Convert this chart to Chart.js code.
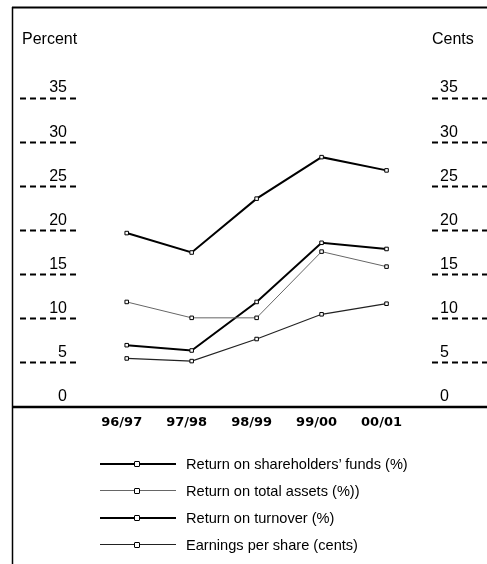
<!DOCTYPE html>
<html><head><meta charset="utf-8">
<script src="https://cdn.jsdelivr.net/npm/chart.js@4.4.0/dist/chart.umd.min.js"></script>
<style>
html,body{margin:0;padding:0;background:#fff;}
#wrap{position:relative;width:487px;height:564px;overflow:hidden;}
#c{position:absolute;left:0;top:0;}
.lab{position:absolute;font-family:"Liberation Sans",sans-serif;font-size:16px;color:#000;line-height:16px;}
#legend{position:absolute;left:100px;top:450px;}
.row{position:relative;height:27px;display:flex;align-items:center;}
.sample{position:relative;width:76px;height:12px;margin-right:10px;}
.ln{position:absolute;left:0;right:0;}
.mk{position:absolute;width:4px;height:4px;border:1px solid #000;background:#fff;left:34px;top:3px;border-radius:1px;}
.txt{font-family:"Liberation Sans",sans-serif;font-size:14.6px;color:#000;white-space:nowrap;}
</style>
</head><body>
<div id="wrap">
<canvas id="c" width="487" height="564"></canvas>
<div class="lab" style="left:22px;top:31px;">Percent</div>
<div class="lab" style="left:432px;top:31px;">Cents</div>
<div id="legend"></div>
</div>
<script>
const categories = ['96/97','97/98','98/99','99/00','00/01'];
const shareholdersFunds = [19.7, 17.5, 23.6, 28.3, 26.8];
const totalAssets = [11.9, 10.1, 10.1, 17.6, 15.9];
const turnover = [7.0, 6.4, 11.9, 18.6, 17.9];
const earningsPerShare = [5.5, 5.2, 7.7, 10.5, 11.7];
const yTickValues = [0, 5, 10, 15, 20, 25, 30, 35];
const seriesLabels = [
  "Return on shareholders\u2019 funds (%)",
  "Return on total assets (%))",
  "Return on turnover (%)",
  "Earnings per share (cents)"
];

const toPts = arr => arr.map((v, i) => ({x: i, y: v}));

const styles = [
  {color:'#000', width:2},
  {color:'#666', width:1},
  {color:'#000', width:2},
  {color:'#222', width:1.2}
];

const seriesData = [shareholdersFunds, totalAssets, turnover, earningsPerShare];

const datasets = seriesData.map((arr, k) => ({
  label: seriesLabels[k],
  data: toPts(arr),
  yAxisID: k === 3 ? 'y2' : 'y',
  borderColor: styles[k].color,
  borderWidth: styles[k].width,
  tension: 0,
  pointStyle: 'rect',
  pointRadius: 2.5,
  pointBorderWidth: 1,
  pointBorderColor: '#000',
  pointBackgroundColor: '#fff',
  fill: false
}));

const frame = {
  id: 'frame',
  afterDraw(chart) {
    const ctx = chart.ctx;
    const y0 = chart.scales.y.getPixelForValue(0);
    ctx.save();
    ctx.strokeStyle = '#000';
    ctx.lineWidth = 2;
    ctx.beginPath(); ctx.moveTo(12, 7.5); ctx.lineTo(487, 7.5); ctx.stroke();
    ctx.lineWidth = 1.5;
    ctx.beginPath(); ctx.moveTo(12.5, 7); ctx.lineTo(12.5, 564); ctx.stroke();
    ctx.lineWidth = 2.5;
    ctx.beginPath(); ctx.moveTo(12, y0); ctx.lineTo(487, y0); ctx.stroke();
    ctx.restore();
  }
};

const yAxis = (pos, width) => ({
  type: 'linear',
  position: pos,
  min: 0, max: 35,
  afterBuildTicks: s => { s.ticks = yTickValues.map(v => ({value: v})); },
  afterFit: s => { s.width = width; },
  border: {display: false},
  grid: {
    drawOnChartArea: false,
    drawTicks: true,
    tickLength: width,
    tickBorderDash: [6, 4],
    tickWidth: 2,
    tickColor: c => (c.tick && c.tick.value === 0) ? 'rgba(0,0,0,0)' : '#000'
  },
  ticks: {
    color: '#000',
    padding: -47,
    labelOffset: -10,
    font: {family: '"Liberation Sans",sans-serif', size: 16}
  }
});

new Chart(document.getElementById('c'), {
  type: 'line',
  data: {datasets},
  options: {
    responsive: false,
    animation: false,
    layout: {padding: {left: 20, right: 0, top: 98, bottom: 127}},
    plugins: {legend: {display: false}, tooltip: {enabled: false}},
    scales: {
      x: {
        type: 'linear',
        min: -0.75, max: 4.7,
        afterBuildTicks: s => { s.ticks = categories.map((c, i) => ({value: i})); },
        afterFit: s => { s.height = 30; },
        grid: {display: false},
        border: {display: false},
        ticks: {
          color: '#000',
          padding: 0,
          labelOffset: -5,
          maxRotation: 0,
          autoSkip: false,
          font: {family: '"DejaVu Sans"', size: 13, weight: 'bold'},
          callback: v => categories[v]
        }
      },
      y: yAxis('left', 58),
      y2: yAxis('right', 55)
    }
  },
  plugins: [frame]
});

// legend
const leg = document.getElementById('legend');
seriesLabels.forEach((lab, k) => {
  const row = document.createElement('div'); row.className = 'row';
  const s = document.createElement('div'); s.className = 'sample';
  const ln = document.createElement('div'); ln.className = 'ln';
  ln.style.height = styles[k].width + 'px';
  ln.style.background = styles[k].color;
  ln.style.top = (6 - styles[k].width / 2) + 'px';
  const mk = document.createElement('div'); mk.className = 'mk';
  s.appendChild(ln); s.appendChild(mk);
  const t = document.createElement('span'); t.className = 'txt'; t.textContent = lab;
  row.appendChild(s); row.appendChild(t);
  leg.appendChild(row);
});
</script>
</body></html>
